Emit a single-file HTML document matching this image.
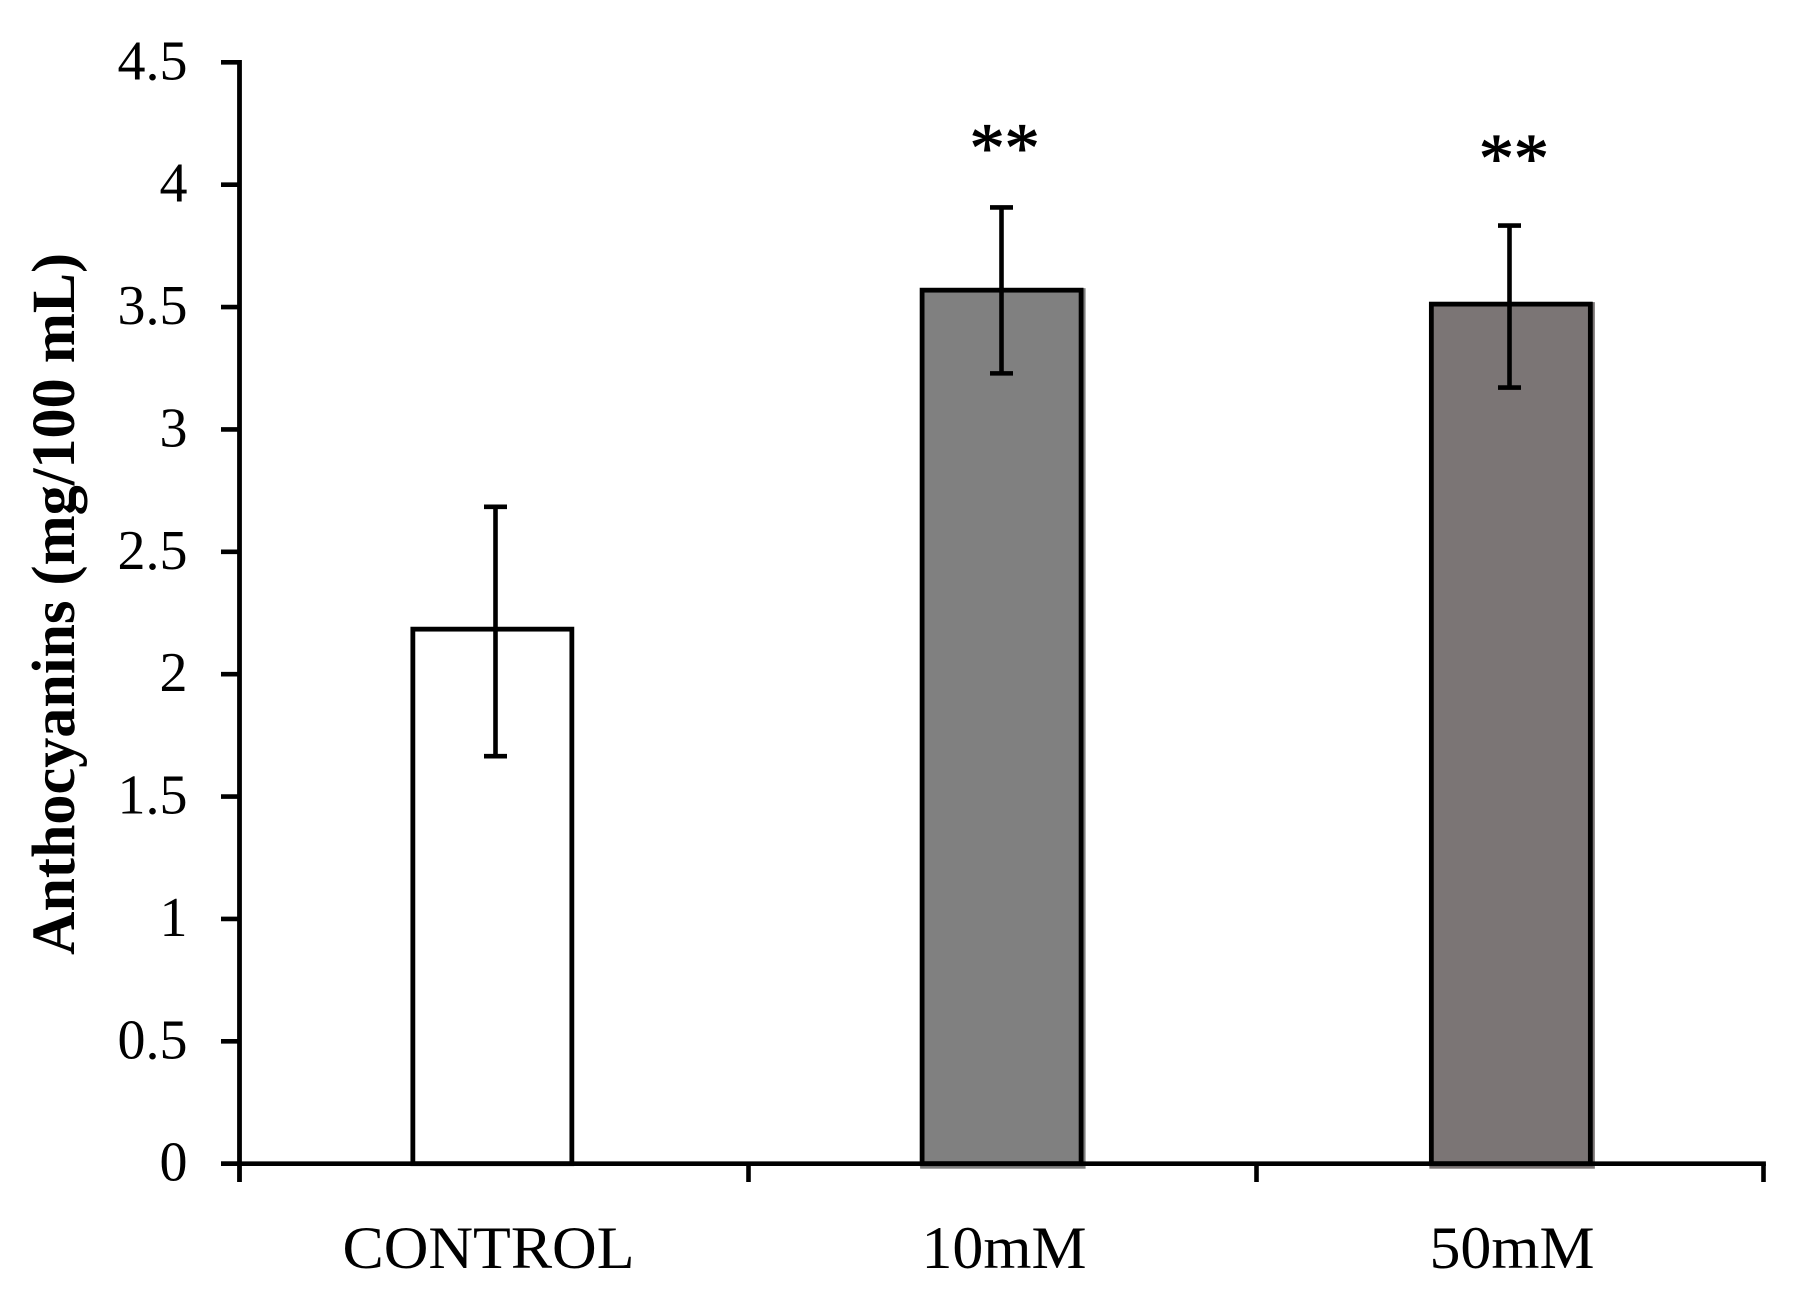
<!DOCTYPE html>
<html lang="en">
<head>
<meta charset="utf-8">
<title>Anthocyanins bar chart</title>
<style>
  html, body { margin: 0; padding: 0; background: #ffffff; width: 1798px; height: 1300px; overflow: hidden; }
  svg { display: block; }
  text { font-family: "Liberation Serif", "DejaVu Serif", serif; fill: #000000; }
</style>
</head>
<body>
<svg id="chart" xmlns="http://www.w3.org/2000/svg" width="1798" height="1300" viewBox="0 0 1798 1300">
  <rect x="0" y="0" width="1798" height="1300" fill="#ffffff"></rect>
  <text transform="translate(74,955) rotate(-90)" font-size="61" font-weight="bold" textLength="702" lengthAdjust="spacingAndGlyphs">Anthocyanins (mg/100 mL)</text>
</svg>
<script>
const categories = ['CONTROL', '10mM', '50mM'];
const values = [2.184, 3.569, 3.512];
const errorUpper = [2.684, 3.907, 3.833];
const errorLower = [1.665, 3.229, 3.171];
const significance = ['', '**', '**'];
const significanceLevels = [0, 4.055, 4.014];
const barFills = ['#ffffff', '#808080', '#7b7575'];
const yTicks = [0, 0.5, 1, 1.5, 2, 2.5, 3, 3.5, 4, 4.5];

const NS = 'http://www.w3.org/2000/svg';
const svg = document.getElementById('chart');

const plotLeft = 239.5;
const plotRight = 1763.5;
const yZero = 1163.7;
const yTop = 62.3;
const yMax = 4.5;
const barWidth = 159;

function yScale(v) { return yZero - (v / yMax) * (yZero - yTop); }
function bandEdge(i) { return plotLeft + (plotRight - plotLeft) * i / categories.length; }
function xCenter(i) { return (bandEdge(i) + bandEdge(i + 1)) / 2; }
function barCenter(i) { return 1001.6 + (i - 1) * 509.25; }

function make(tag, attrs, parent) {
  const el = document.createElementNS(NS, tag);
  for (const k in attrs) el.setAttribute(k, attrs[k]);
  (parent || svg).appendChild(el);
  return el;
}

/* bars */
categories.forEach(function (c, i) {
  const x = barCenter(i) - barWidth / 2;
  const top = yScale(values[i]);
  const shadow = make('rect', { x: x - 2, y: top - 2, width: barWidth + 6.5, height: yZero - top + 7, fill: barFills[i] });
  
  
  const bar = make('rect', { x: x, y: top, width: barWidth, height: yZero - top, fill: barFills[i], stroke: '#000000', 'stroke-width': 4.8 });
  
  
});

/* y axis */
const yAxis = make('line', { x1: plotLeft, x2: plotLeft, y1: yTop - 2.3, y2: 1182, stroke: '#000000', 'stroke-width': 4.8 });



yTicks.forEach(function (t) {
  const y = yScale(t);
  const tick = make('line', { x1: 221, x2: plotLeft, y1: y, y2: y, stroke: '#000000', 'stroke-width': 4.6 });
  
  
  const label = make('text', { x: 187.5, y: y + 17, 'text-anchor': 'end', 'font-size': 56 });
  
  
  label.textContent = String(t);
});

/* x axis */
const xAxis = make('line', { x1: 221, x2: plotRight + 2.4, y1: yZero, y2: yZero, stroke: '#000000', 'stroke-width': 4.6 });



for (let i = 1; i <= categories.length; i++) {
  const x = bandEdge(i) + (i < categories.length ? 1 : 0);
  const tick = make('line', { x1: x, x2: x, y1: yZero, y2: 1182, stroke: '#000000', 'stroke-width': 4.6 });
  
  
}

categories.forEach(function (c, i) {
  const isLong = c.length > 5;
  const label = make('text', {
    x: xCenter(i) + (isLong ? -5 : 2.5), y: 1268, 'text-anchor': 'middle', 'font-size': 60,
    textLength: isLong ? 292 : 165, lengthAdjust: 'spacingAndGlyphs'
  });
  
  
  label.textContent = c;
});

/* error bars */
categories.forEach(function (c, i) {
  const x = xCenter(i) + (i === 0 ? 2 : 0);
  const yHi = yScale(errorUpper[i]);
  const yLo = yScale(errorLower[i]);
  const stem = make('line', { x1: x, x2: x, y1: yHi, y2: yLo, stroke: '#000000', 'stroke-width': 4.6 });
  
  
  const capHi = make('line', { x1: x - 11.5, x2: x + 11.5, y1: yHi, y2: yHi, stroke: '#000000', 'stroke-width': 4.6 });
  
  
  const capLo = make('line', { x1: x - 11.5, x2: x + 11.5, y1: yLo, y2: yLo, stroke: '#000000', 'stroke-width': 4.6 });
  
  
});

/* significance markers */
significance.forEach(function (s, i) {
  if (!s) return;
  const mark = make('text', { x: barCenter(i) + 3, y: yScale(significanceLevels[i]), 'text-anchor': 'middle', 'font-size': 70, stroke: '#000000', 'stroke-width': 1 });
  
  
  mark.textContent = s;
});
</script>
</body>
</html>
